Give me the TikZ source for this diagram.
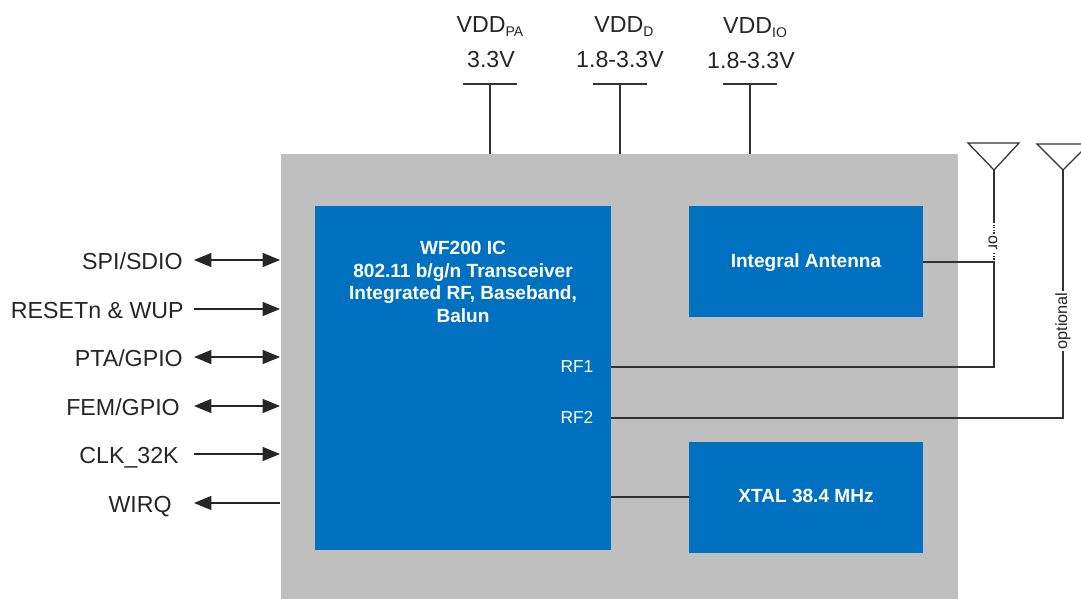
\documentclass[tikz,border=0pt]{standalone}
\usepackage{fontspec}
\setmainfont{Liberation Sans}
\usetikzlibrary{arrows.meta}
\definecolor{chipgray}{HTML}{BFBFBF}
\definecolor{chipblue}{HTML}{0070C0}
\definecolor{linecol}{HTML}{333333}
\definecolor{textcol}{HTML}{262626}
\tikzset{
  x=0.75pt,y=-0.75pt,
  blockbox/.style={fill=chipblue,draw=none,inner sep=0,outer sep=0,anchor=north west},
  blocktext/.style={text=white,font=\fontsize{14.3}{17}\selectfont\bfseries,align=center,inner sep=0},
  pintext/.style={text=white,font=\fontsize{13}{15}\selectfont,inner sep=0},
  sigtext/.style={text=textcol,font=\fontsize{17.4}{20}\selectfont,inner sep=0},
  sidetext/.style={text=textcol,font=\fontsize{12.2}{14}\selectfont,inner sep=0},
  wire/.style={draw=linecol,line width=0.95pt},
  sig/.style={draw=black!85,line width=0.95pt,>={Triangle[length=13pt,width=10.5pt]}},
  bar/.style={draw=linecol,line width=0.95pt},
}
\newcommand{\lowsub}[1]{\raisebox{-0.3ex}{\fontsize{10.5}{11}\selectfont #1}}
\begin{document}
\begin{tikzpicture}
\useasboundingbox (0,0) rectangle (1081,599);
\path[clip] (0,0) rectangle (1081,599);
% blocks
\node[blockbox,fill=chipgray,minimum width=677*0.75pt,minimum height=445*0.75pt] (chip) at (281,154) {};
\node[blockbox,minimum width=296*0.75pt,minimum height=344*0.75pt] (ic) at (315,206) {};
\node[blockbox,minimum width=234*0.75pt,minimum height=111*0.75pt] (ant) at (689,206) {};
\node[blockbox,minimum width=234*0.75pt,minimum height=111*0.75pt] (xtal) at (689,442) {};
\node[blocktext] (ictext) at (463,282) {WF200 IC\\802.11 b/g/n Transceiver\\Integrated RF, Baseband,\\Balun};
\node[blocktext] (anttext) at (806,263) {Integral Antenna};
\node[blocktext] (xtaltext) at (806,496) {XTAL 38.4 MHz};
\node[pintext] (rf1) at (577,367) {RF1};
\node[pintext] (rf2) at (577,417) {RF2};
% antennas
\coordinate (a1l) at (968,143); \coordinate (a1r) at (1019,143); \coordinate (a1t) at (994,170);
\coordinate (a2l) at (1037,144); \coordinate (a2r) at (1089,144); \coordinate (a2t) at (1063,170);
\draw[wire] (a1l) -- (a1r) -- (a1t) -- cycle;
\draw[wire] (a2l) -- (a2r) -- (a2t) -- cycle;
% RF routes
\coordinate (c1a) at (994,262); \coordinate (c1b) at (994,367); \coordinate (c1c) at (994,222);
\coordinate (c2b) at (1063,418);
\coordinate (icrf1) at (611,367); \coordinate (icrf2) at (611,418); \coordinate (icx) at (611,497);
\coordinate (antr) at (923,262); \coordinate (xtl) at (689,497);
\draw[wire] (icrf1) -- (c1b) -- (c1a) -- (antr);
\draw[wire] (a1t) -- (c1c);
\draw[wire,densely dotted,line width=0.8pt] (c1c) -- (c1a);
\draw[wire] (icrf2) -- (c2b) -- (a2t);
\draw[wire] (icx) -- (xtl);
\node[sidetext,rotate=-90,anchor=base,fill=white,inner xsep=1pt] (ortext) at (988.5,243) {or};
\node[sidetext,rotate=90,anchor=base,fill=white,inner xsep=1pt] (opttext) at (1067,321) {optional};
% supplies
\node[sigtext,anchor=base] (vpa) at (490,33) {VDD\lowsub{PA}};
\node[sigtext,anchor=base] (vpav) at (491,68) {3.3V};
\node[sigtext,anchor=base] (vd) at (624,33) {VDD\lowsub{D}};
\node[sigtext,anchor=base] (vdv) at (620,68) {1.8-3.3V};
\node[sigtext,anchor=base] (vio) at (755,34) {VDD\lowsub{IO}};
\node[sigtext,anchor=base] (viov) at (751,69) {1.8-3.3V};
\foreach \n/\x in {pa/490,d/620,io/750}{
  \coordinate (\n t) at (\x,84);
  \coordinate (\n l) at (\x-27,84);
  \coordinate (\n r) at (\x+27,84);
  \coordinate (\n b) at (\x,154);
  \draw[bar] (\n l) -- (\n r);
  \draw[bar] (\n t) -- (\n b);
}
% signals
\node[sigtext,anchor=base east] (s1) at (183,269) {SPI/SDIO};
\node[sigtext,anchor=base east] (s2) at (184,318) {RESETn \& WUP};
\node[sigtext,anchor=base east] (s3) at (183,366) {PTA/GPIO};
\node[sigtext,anchor=base east] (s4) at (180,415) {FEM/GPIO};
\node[sigtext,anchor=base east] (s5) at (179,463) {CLK\_32K};
\node[sigtext,anchor=base east] (s6) at (172,512) {WIRQ};
\foreach \n/\y in {1/260,2/309,3/357,4/406,5/454,6/503}{
  \coordinate (l\n) at (194,\y);
  \coordinate (r\n) at (280,\y);
}
\draw[sig,<->] (l1) -- (r1);
\draw[sig,->] (l2) -- (r2);
\draw[sig,<->] (l3) -- (r3);
\draw[sig,<->] (l4) -- (r4);
\draw[sig,->] (l5) -- (r5);
\draw[sig,<-] (l6) -- (r6);
\end{tikzpicture}
\end{document}
